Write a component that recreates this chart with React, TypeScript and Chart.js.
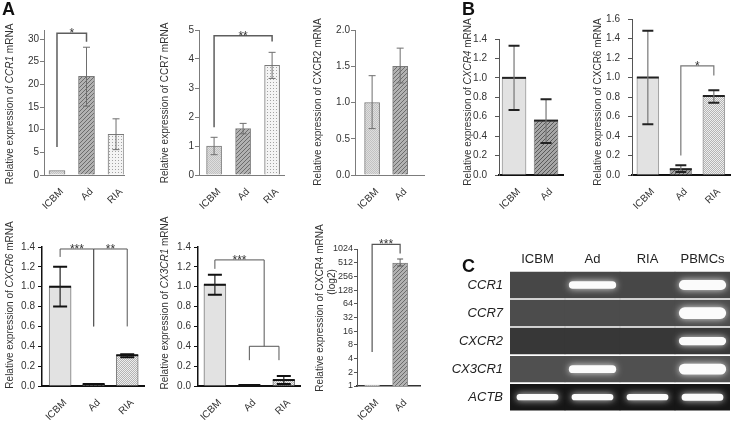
import React, { useEffect, useRef } from 'react';
import { Chart, registerables } from 'chart.js';

Chart.register(...registerables);

const FONT = "'Liberation Sans', Arial, Helvetica, sans-serif";

/* ---------------- data ---------------- */
const groups3 = ['ICBM', 'Ad', 'RIA'];
const groups2 = ['ICBM', 'Ad'];

// Panel A, top row
const ccr1Mean = [1.0, 21.8, 9.0];
const ccr1Upper = [1.0, 28.2, 12.4];
const ccr1Lower = [1.0, 15.2, 5.6];
const ccr1Ticks = [0, 5, 10, 15, 20, 25, 30];
const ccr1Brackets = [{ from: 0, to: 1, top: 31.3, leg1: 6.2, leg2: 29.4, label: '*' }];

const ccr7Mean = [1.0, 1.6, 3.78];
const ccr7Upper = [1.3, 1.78, 4.23];
const ccr7Lower = [0.7, 1.42, 3.33];
const ccr7Ticks = [0, 1, 2, 3, 4, 5];
const ccr7Brackets = [{ from: 0, to: 2, top: 4.8, leg1: 1.65, leg2: 4.6, label: '**' }];

const cxcr2Mean = [1.0, 1.5];
const cxcr2Upper = [1.37, 1.75];
const cxcr2Lower = [0.64, 1.27];
const cxcr2Ticks = [0, 0.5, 1.0, 1.5, 2.0];

// Panel B
const cxcr4Mean = [1.0, 0.56];
const cxcr4Upper = [1.33, 0.78];
const cxcr4Lower = [0.67, 0.33];
const ticks14 = [0, 0.2, 0.4, 0.6, 0.8, 1.0, 1.2, 1.4];

const cxcr6bMean = [1.0, 0.06, 0.81];
const cxcr6bUpper = [1.48, 0.1, 0.87];
const cxcr6bLower = [0.52, 0.03, 0.74];
const ticks16 = [0, 0.2, 0.4, 0.6, 0.8, 1.0, 1.2, 1.4, 1.6];
const cxcr6bBrackets = [{ from: 1, to: 2, top: 1.12, leg1: 0.2, leg2: 1.02, label: '*' }];

// Panel A, bottom row
const cxcr6aMean = [1.0, 0.02, 0.31];
const cxcr6aUpper = [1.2, 0.02, 0.32];
const cxcr6aLower = [0.8, 0.02, 0.29];
const cxcr6aBrackets = [
  { from: 0, to: 1, top: 1.38, leg1: 1.3, leg2: 0.6, label: '***' },
  { from: 1, to: 2, top: 1.38, leg1: 0.6, leg2: 0.6, label: '**' },
];

const cx3cr1Mean = [1.02, 0.01, 0.06];
const cx3cr1Upper = [1.12, 0.01, 0.1];
const cx3cr1Lower = [0.92, 0.01, 0.02];
const cx3cr1Brackets = [
  { from: 0, to: 1.43, top: 1.27, leg1: 1.18, leg2: 0.4, label: '***' },
  { from: 1, to: 1.86, top: 0.4, leg1: 0.26, leg2: 0.26, label: '' },
];

const cxcr4LogMean = [1.05, 505];
const cxcr4LogUpper = [1.05, 617];
const cxcr4LogLower = [1.05, 433];
const log2Ticks = [1, 2, 4, 8, 16, 32, 64, 128, 256, 512, 1024];
const cxcr4LogBrackets = [{ from: 0, to: 1, top: 1300, leg1: 5.6, leg2: 820, label: '***' }];

// Panel C (gel): band thickness per lane (row units), 0 = no band
const gelLanes = ['ICBM', 'Ad', 'RIA', 'PBMCs'];
const gelGenes = ['CCR1', 'CCR7', 'CXCR2', 'CX3CR1', 'ACTB'];
const bandCCR1 = [0, 0.27, 0, 0.36];
const bandCCR7 = [0, 0, 0, 0.42];
const bandCXCR2 = [0, 0, 0, 0.3];
const bandCX3CR1 = [0, 0.28, 0, 0.38];
const bandACTB = [0.22, 0.22, 0.22, 0.25];

/* ---------------- types & styles ---------------- */
type Bracket = { from: number; to: number; top: number; leg1: number; leg2: number; label: string };
type Seg = { t: string; it?: boolean };
type TitleLine = { x: number; y: number; segs: Seg[] };
type Style = {
  yAxis: string; yAxisW: number; xAxis: string; xAxisW: number; tickLen: number; tickPad: number; tickFont: number;
  stem: string; stemW: number; cap: string; capW: number; capHalf: number;
  top: string | null; bracket: string; bracketW: number; barBorder: string;
};
type Panel = {
  key: string; cx: number; cy: number; L: number; T: number; R: number; B: number; xh: number;
  cats: string[]; mean: number[]; upper: number[]; lower: number[]; fills: string[];
  log?: boolean; yMin: number; yMax: number; yTicks: number[]; dec: number;
  xMin: number; xMax: number; barPx: number; brackets: Bracket[]; style: Style; titles: TitleLine[];
};

const styleA1: Style = {
  yAxis: '#7c7c7c', yAxisW: 1, xAxis: '#7c7c7c', xAxisW: 1, tickLen: 4, tickPad: 1, tickFont: 10,
  stem: '#6e6e6e', stemW: 1, cap: '#6e6e6e', capW: 1, capHalf: 3.5,
  top: null, bracket: '#5e5e5e', bracketW: 1.5, barBorder: '#7a7a7a',
};
const styleB: Style = {
  yAxis: '#555', yAxisW: 1, xAxis: '#111', xAxisW: 2, tickLen: 4, tickPad: 8, tickFont: 10,
  stem: '#777', stemW: 1.2, cap: '#222', capW: 2, capHalf: 5.5,
  top: '#222', bracket: '#777', bracketW: 1.2, barBorder: '#999',
};
const styleA2: Style = {
  yAxis: '#111', yAxisW: 1.5, xAxis: '#111', xAxisW: 2, tickLen: 4, tickPad: 3, tickFont: 10,
  stem: '#222', stemW: 1.2, cap: '#111', capW: 2, capHalf: 7,
  top: '#111', bracket: '#555', bracketW: 1, barBorder: '#777',
};
const styleLog: Style = {
  yAxis: '#555', yAxisW: 1, xAxis: '#333', xAxisW: 1.5, tickLen: 3, tickPad: 1, tickFont: 9,
  stem: '#666', stemW: 1, cap: '#555', capW: 1, capHalf: 3,
  top: null, bracket: '#555', bracketW: 1.2, barBorder: '#888',
};

const geneTitle = (g: string, x: number, y: number, it: boolean): TitleLine => ({
  x, y, segs: [{ t: 'Relative expression of ' }, { t: g, it }, { t: ' mRNA' }],
});

const panels: Panel[] = [
  {
    key: 'ccr1', cx: 0, cy: 15, L: 44, T: 30, R: 124, B: 175, xh: 35,
    cats: groups3, mean: ccr1Mean, upper: ccr1Upper, lower: ccr1Lower, fills: ['fine', 'diag', 'dots'],
    yMin: 0, yMax: 32, yTicks: ccr1Ticks, dec: 0, xMin: -0.44, xMax: 2.27, barPx: 16,
    brackets: ccr1Brackets, style: styleA1, titles: [geneTitle('CCR1', 10, 104, true)],
  },
  {
    key: 'ccr7', cx: 155, cy: 15, L: 199, T: 30, R: 284, B: 175, xh: 35,
    cats: groups3, mean: ccr7Mean, upper: ccr7Upper, lower: ccr7Lower, fills: ['fine', 'diag', 'dots'],
    yMin: 0, yMax: 5, yTicks: ccr7Ticks, dec: 0, xMin: -0.52, xMax: 2.41, barPx: 15,
    brackets: ccr7Brackets, style: styleA1, titles: [geneTitle('CCR7', 165, 103, false)],
  },
  {
    key: 'cxcr2', cx: 305, cy: 15, L: 355, T: 30, R: 424, B: 175, xh: 35,
    cats: groups2, mean: cxcr2Mean, upper: cxcr2Upper, lower: cxcr2Lower, fills: ['fine', 'diag'],
    yMin: 0, yMax: 2, yTicks: cxcr2Ticks, dec: 1, xMin: -0.61, xMax: 1.85, barPx: 15,
    brackets: [], style: styleA1, titles: [geneTitle('CXCR2', 318, 102, false)],
  },
  {
    key: 'bcxcr4', cx: 458, cy: 10, L: 499, T: 39, R: 563, B: 175, xh: 35,
    cats: groups2, mean: cxcr4Mean, upper: cxcr4Upper, lower: cxcr4Lower, fills: ['solid', 'diagDark'],
    yMin: 0, yMax: 1.4, yTicks: ticks14, dec: 1, xMin: -0.47, xMax: 1.53, barPx: 24,
    brackets: [], style: styleB, titles: [geneTitle('CXCR4', 468, 102, true)],
  },
  {
    key: 'bcxcr6', cx: 588, cy: 5, L: 632, T: 19, R: 730, B: 175, xh: 35,
    cats: groups3, mean: cxcr6bMean, upper: cxcr6bUpper, lower: cxcr6bLower, fills: ['solid', 'diagDark', 'checker'],
    yMin: 0, yMax: 1.6, yTicks: ticks16, dec: 1, xMin: -0.48, xMax: 2.49, barPx: 22,
    brackets: cxcr6bBrackets, style: styleB, titles: [geneTitle('CXCR6', 598, 102, false)],
  },
  {
    key: 'acxcr6', cx: 0, cy: 215, L: 42, T: 247, R: 144, B: 386, xh: 36,
    cats: groups3, mean: cxcr6aMean, upper: cxcr6aUpper, lower: cxcr6aLower, fills: ['solid', 'diagDark', 'checker'],
    yMin: 0, yMax: 1.4, yTicks: ticks14, dec: 1, xMin: -0.54, xMax: 2.5, barPx: 22,
    brackets: cxcr6aBrackets, style: styleA2, titles: [geneTitle('CXCR6', 10, 305, true)],
  },
  {
    key: 'cx3cr1', cx: 156, cy: 215, L: 198, T: 247, R: 300, B: 386, xh: 36,
    cats: groups3, mean: cx3cr1Mean, upper: cx3cr1Upper, lower: cx3cr1Lower, fills: ['solid', 'diagDark', 'checker'],
    yMin: 0, yMax: 1.4, yTicks: ticks14, dec: 1, xMin: -0.49, xMax: 2.47, barPx: 22,
    brackets: cx3cr1Brackets, style: styleA2, titles: [geneTitle('CX3CR1', 165, 303, true)],
  },
  {
    key: 'logcxcr4', cx: 310, cy: 215, L: 357, T: 249, R: 420, B: 386, xh: 36,
    cats: groups2, mean: cxcr4LogMean, upper: cxcr4LogUpper, lower: cxcr4LogLower, fills: ['fine', 'diag'],
    log: true, yMin: 1, yMax: 1024, yTicks: log2Ticks, dec: 0, xMin: -0.54, xMax: 1.71, barPx: 15,
    brackets: cxcr4LogBrackets, style: styleLog,
    titles: [geneTitle('CXCR4', 320, 308, false), { x: 332, y: 282, segs: [{ t: '(log2)' }] }],
  },
];

/* ---------------- helpers ---------------- */
function makeFill(kind: string): CanvasPattern | string {
  if (kind === 'solid') return '#e2e2e2';
  const c = document.createElement('canvas');
  const g = c.getContext('2d');
  if (!g) return '#cccccc';
  if (kind === 'fine') {
    c.width = 2; c.height = 2;
    g.fillStyle = '#dedede'; g.fillRect(0, 0, 2, 2);
    g.fillStyle = '#c2c2c2'; g.fillRect(0, 0, 1, 1); g.fillRect(1, 1, 1, 1);
  } else if (kind === 'diag' || kind === 'diagDark') {
    c.width = 4; c.height = 4;
    g.fillStyle = kind === 'diag' ? '#b2b2b2' : '#a6a6a6'; g.fillRect(0, 0, 4, 4);
    g.fillStyle = kind === 'diag' ? '#6c6c6c' : '#5a5a5a';
    for (let i = 0; i < 4; i++) g.fillRect(i, 3 - i, 1, 1);
  } else if (kind === 'dots') {
    c.width = 3; c.height = 3;
    g.fillStyle = '#f4f4f4'; g.fillRect(0, 0, 3, 3);
    g.fillStyle = '#a2a2a2'; g.fillRect(1, 1, 1, 1);
  } else if (kind === 'checker') {
    c.width = 2; c.height = 2;
    g.fillStyle = '#eeeeee'; g.fillRect(0, 0, 2, 2);
    g.fillStyle = '#b4b4b4'; g.fillRect(0, 0, 1, 1); g.fillRect(1, 1, 1, 1);
  }
  return g.createPattern(c, 'repeat') || '#cccccc';
}

function overlayPlugin(p: Panel) {
  const s = p.style;
  return {
    id: 'overlay',
    afterDatasetsDraw(chart: any) {
      const ctx = chart.ctx as CanvasRenderingContext2D;
      const xs = chart.scales.x;
      const ys = chart.scales.y;
      ctx.save();
      p.mean.forEach((m, i) => {
        const x = xs.getPixelForValue(i);
        if (s.top) {
          const yt = ys.getPixelForValue(m);
          ctx.strokeStyle = s.top; ctx.lineWidth = 2;
          ctx.beginPath(); ctx.moveTo(x - p.barPx / 2, yt); ctx.lineTo(x + p.barPx / 2, yt); ctx.stroke();
        }
        if (p.upper[i] === p.lower[i]) return;
        const yu = ys.getPixelForValue(p.upper[i]);
        const yl = ys.getPixelForValue(p.lower[i]);
        ctx.strokeStyle = s.stem; ctx.lineWidth = s.stemW;
        ctx.beginPath(); ctx.moveTo(x, yu); ctx.lineTo(x, yl); ctx.stroke();
        ctx.strokeStyle = s.cap; ctx.lineWidth = s.capW;
        ctx.beginPath();
        ctx.moveTo(x - s.capHalf, yu); ctx.lineTo(x + s.capHalf, yu);
        ctx.moveTo(x - s.capHalf, yl); ctx.lineTo(x + s.capHalf, yl);
        ctx.stroke();
      });
      ctx.restore();
    },
    afterDraw(chart: any) {
      const ctx = chart.ctx as CanvasRenderingContext2D;
      const xs = chart.scales.x;
      const ys = chart.scales.y;
      ctx.save();
      for (const b of p.brackets) {
        const x1 = xs.getPixelForValue(b.from);
        const x2 = xs.getPixelForValue(b.to);
        const yt = ys.getPixelForValue(b.top);
        ctx.strokeStyle = s.bracket; ctx.lineWidth = s.bracketW;
        ctx.beginPath();
        ctx.moveTo(x1, ys.getPixelForValue(b.leg1));
        ctx.lineTo(x1, yt); ctx.lineTo(x2, yt);
        ctx.lineTo(x2, ys.getPixelForValue(b.leg2));
        ctx.stroke();
        if (b.label) {
          ctx.fillStyle = '#333';
          ctx.font = `12px ${FONT}`;
          ctx.textAlign = 'center';
          ctx.textBaseline = 'alphabetic';
          ctx.fillText(b.label, (x1 + x2) / 2, yt + 4);
        }
      }
      for (const line of p.titles) {
        ctx.save();
        ctx.translate(line.x - p.cx, line.y - p.cy);
        ctx.rotate(-Math.PI / 2);
        let total = 0;
        for (const seg of line.segs) {
          ctx.font = `${seg.it ? 'italic ' : ''}10px ${FONT}`;
          total += ctx.measureText(seg.t).width;
        }
        let cx = -total / 2;
        ctx.fillStyle = '#333';
        ctx.textBaseline = 'middle';
        ctx.textAlign = 'left';
        for (const seg of line.segs) {
          ctx.font = `${seg.it ? 'italic ' : ''}10px ${FONT}`;
          ctx.fillText(seg.t, cx, 0);
          cx += ctx.measureText(seg.t).width;
        }
        ctx.restore();
      }
      ctx.restore();
    },
  };
}

function makeBarChart(canvas: HTMLCanvasElement, p: Panel) {
  const s = p.style;
  return new Chart(canvas, {
    type: 'bar',
    data: {
      datasets: [{
        data: p.mean.map((v, i) => ({ x: i, y: v })),
        backgroundColor: p.fills.map(makeFill) as any,
        borderColor: s.barBorder,
        borderWidth: 1,
        barThickness: p.barPx,
      }],
    },
    options: {
      responsive: false,
      animation: false,
      devicePixelRatio: 1,
      layout: { padding: { top: p.T - p.cy, right: 4, left: 0, bottom: 0 } },
      plugins: { legend: { display: false }, tooltip: { enabled: false }, title: { display: false } },
      scales: {
        x: {
          type: 'linear', offset: false, min: p.xMin, max: p.xMax,
          afterBuildTicks: (sc: any) => { sc.ticks = p.cats.map((_, i) => ({ value: i })); },
          ticks: {
            autoSkip: false, minRotation: 45, maxRotation: 45, padding: 3, labelOffset: 5,
            font: { size: 10, family: FONT }, color: '#333',
            callback: (v: any) => p.cats[Math.round(Number(v))] ?? '',
          },
          grid: { display: false },
          border: { display: true, color: s.xAxis, width: s.xAxisW },
          afterFit: (sc: any) => { sc.height = p.xh; },
        },
        y: {
          type: p.log ? 'logarithmic' : 'linear', min: p.yMin, max: p.yMax,
          afterBuildTicks: (sc: any) => { sc.ticks = p.yTicks.map((v) => ({ value: v })); },
          ticks: {
            autoSkip: false, padding: s.tickPad,
            font: { size: s.tickFont, family: FONT }, color: '#333',
            callback: (v: any) => Number(v).toFixed(p.dec),
          },
          grid: { display: true, drawOnChartArea: false, drawTicks: true, tickLength: s.tickLen, color: s.yAxis, lineWidth: 1 },
          border: { display: true, color: s.yAxis, width: s.yAxisW },
          afterFit: (sc: any) => { sc.width = p.L - p.cx; },
        },
      },
    } as any,
    plugins: [overlayPlugin(p)],
  });
}

const glowPlugin = {
  id: 'glow',
  beforeDatasetDraw(chart: any, args: any) {
    if (chart.data.datasets[args.index].glow) {
      chart.ctx.save();
      chart.ctx.shadowColor = 'rgba(255,255,255,0.85)';
      chart.ctx.shadowBlur = 7;
    }
  },
  afterDatasetDraw(chart: any, args: any) {
    if (chart.data.datasets[args.index].glow) chart.ctx.restore();
  },
};

const GEL = { cx: 430, cy: 238, L: 510, T: 271, R: 730, B: 423 };

function makeGel(canvas: HTMLCanvasElement) {
  const rowColors = ['#474747', '#4c4c4c', '#373737', '#505050', '#161616'];
  const bandRows = [bandCCR1, bandCCR7, bandCXCR2, bandCX3CR1, bandACTB];
  const bg = gelGenes.map((_, k) => {
    const r = 4 - k;
    return {
      data: gelLanes.map(() => [r + 0.04, r + 0.96]),
      backgroundColor: rowColors[k], borderWidth: 0,
      barPercentage: 1, categoryPercentage: 1, grouped: false, order: 2,
    };
  });
  const bands = bandRows.map((arr, k) => {
    const r = 4 - k;
    return {
      data: arr.map((t) => (t > 0 ? [r + 0.5 - t / 2, r + 0.5 + t / 2] : null)),
      backgroundColor: '#fbfbfb', borderWidth: 0, borderRadius: 20, borderSkipped: false,
      barPercentage: k === 4 ? 0.76 : 0.86, categoryPercentage: 1, grouped: false, order: 1, glow: true,
    };
  });
  return new Chart(canvas, {
    type: 'bar',
    data: { labels: gelLanes, datasets: [...bg, ...bands] as any },
    options: {
      responsive: false,
      animation: false,
      devicePixelRatio: 1,
      layout: { padding: { top: 0, right: 738 - GEL.R, bottom: 426 - GEL.B, left: 0 } },
      plugins: { legend: { display: false }, tooltip: { enabled: false } },
      scales: {
        x: {
          type: 'category', position: 'top', offset: true,
          grid: { display: false, drawTicks: false }, border: { display: false },
          ticks: { font: { size: 13, family: FONT }, color: '#222', padding: 4, maxRotation: 0, autoSkip: false },
          afterFit: (sc: any) => { sc.height = GEL.T - GEL.cy; },
        },
        y: {
          type: 'linear', min: 0, max: 5,
          afterBuildTicks: (sc: any) => { sc.ticks = gelGenes.map((_, k) => ({ value: 4.5 - k })); },
          ticks: {
            autoSkip: false, padding: 7, font: { size: 13, style: 'italic', family: FONT }, color: '#222',
            callback: (v: any) => gelGenes[Math.round(4.5 - Number(v))] ?? '',
          },
          grid: { display: false, drawTicks: false }, border: { display: false },
          afterFit: (sc: any) => { sc.width = GEL.L - GEL.cx; },
        },
      },
    } as any,
    plugins: [glowPlugin],
  });
}

const letterStyle = (left: number, top: number): React.CSSProperties => ({
  position: 'absolute', left, top, fontFamily: FONT, fontWeight: 'bold', fontSize: 18, color: '#111', lineHeight: '20px',
});

export default function App() {
  const refs = useRef<Record<string, HTMLCanvasElement | null>>({});
  useEffect(() => {
    Chart.defaults.font.family = FONT;
    const charts: Chart[] = [];
    for (const p of panels) {
      const c = refs.current[p.key];
      if (c) charts.push(makeBarChart(c, p));
    }
    const g = refs.current['gel'];
    if (g) charts.push(makeGel(g));
    return () => { charts.forEach((c) => c.destroy()); };
  }, []);
  return (
    <div style={{ position: 'absolute', left: 0, top: 0, width: 738, height: 426, background: '#fff', overflow: 'hidden' }}>
      {panels.map((p) => (
        <canvas
          key={p.key}
          ref={(el) => { refs.current[p.key] = el; }}
          width={p.R + 4 - p.cx}
          height={p.B + p.xh - p.cy}
          style={{ position: 'absolute', left: p.cx, top: p.cy }}
        />
      ))}
      <canvas
        ref={(el) => { refs.current['gel'] = el; }}
        width={738 - GEL.cx}
        height={426 - GEL.cy}
        style={{ position: 'absolute', left: GEL.cx, top: GEL.cy }}
      />
      <div style={letterStyle(2, -1)}>A</div>
      <div style={letterStyle(462, -1)}>B</div>
      <div style={letterStyle(462, 256)}>C</div>
    </div>
  );
}
